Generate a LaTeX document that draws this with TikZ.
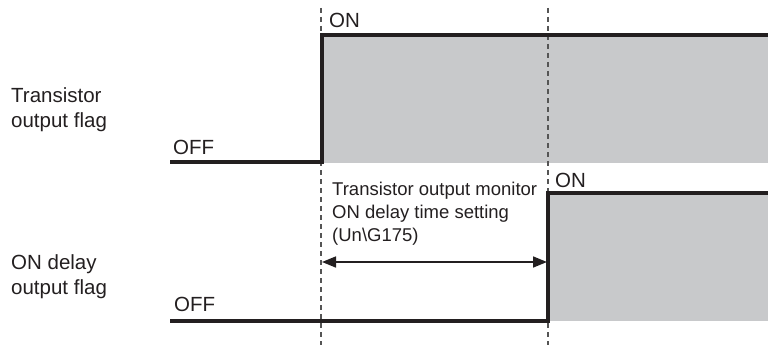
\documentclass[tikz,border=0pt]{standalone}
\usepackage{fontspec}
\setmainfont{Liberation Sans}
\usetikzlibrary{arrows.meta}
\definecolor{ink}{HTML}{231F20}
\definecolor{panelgrey}{HTML}{C8C9CB}
\definecolor{guidegrey}{HTML}{555555}
\begin{document}
\begin{tikzpicture}[x=1pt,y=-1pt,
  lbl/.style={anchor=base west,inner sep=0pt,text=ink,font=\fontsize{20.5}{24.5}\selectfont,align=left},
  small/.style={anchor=base west,inner sep=0pt,text=ink,font=\fontsize{18.5}{23}\selectfont,align=left},
  signal/.style={draw=ink,line width=3.3pt,line join=miter},
  guide/.style={draw=guidegrey,line width=1.2pt,dash pattern=on 5pt off 4pt},
  span/.style={draw=ink,line width=1.6pt,{Triangle[length=14pt,width=11pt]}-{Triangle[length=14pt,width=11pt]}}]
\useasboundingbox (0,0) rectangle (768,345);
% coordinates
\coordinate (a0) at (170,162);
\coordinate (a1) at (322,162);
\coordinate (a2) at (322,35);
\coordinate (a3) at (770,35);
\coordinate (b0) at (170,321);
\coordinate (b1) at (548,321);
\coordinate (b2) at (548,193);
\coordinate (b3) at (770,193);
\coordinate (g1t) at (321,8);
\coordinate (g1b) at (321,345);
\coordinate (g2t) at (548,8);
\coordinate (g2b) at (548,345);
% fills
\fill[panelgrey] (a2) rectangle (768,163);
\fill[panelgrey] (b2) rectangle (768,321);
% guides
\draw[guide] (g1t) -- (g1b);
\draw[guide] (g2t) -- (g2b);
% signals
\draw[signal] (a0) -- (a1) -- (a2) -- (a3);
\draw[signal] (b0) -- (b1) -- (b2) -- (b3);
% span arrow
\coordinate (s1) at (322,262);
\coordinate (s2) at (547,262);
\draw[span] (s1) -- (s2);
% labels
\node[lbl] (l1) at (11,127) {Transistor\\output flag};
\node[lbl] (l2) at (11,294) {ON delay\\output flag};
\node[lbl] (off1) at (173,154) {OFF};
\node[lbl] (off2) at (174,311) {OFF};
\node[lbl] (on1) at (329,28) {ON};
\node[lbl] (on2) at (555,187) {ON};
\node[small] (note) at (332,241) {Transistor output monitor\\ON delay time setting\\(Un\textbackslash G175)};
\end{tikzpicture}
\end{document}
